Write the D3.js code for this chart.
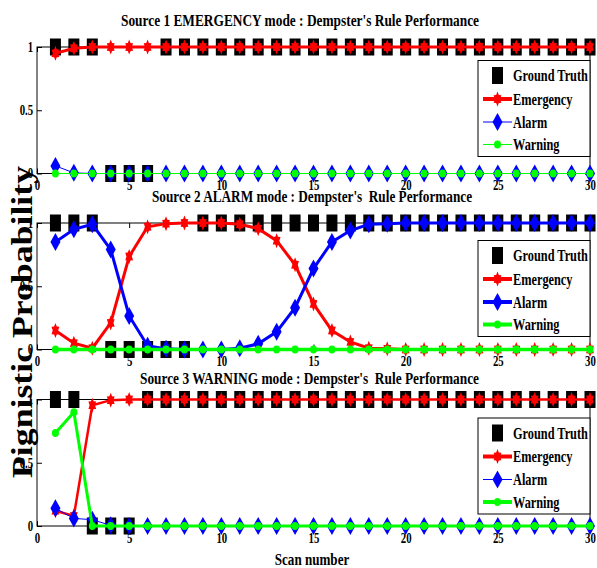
<!DOCTYPE html>
<html>
<head>
<meta charset="utf-8">
<script src="https://cdn.jsdelivr.net/npm/d3@7"></script>
<style>
  body { margin: 0; background: #fff; }
  text { font-family: "Liberation Serif", "Times New Roman", serif; font-weight: bold; }
</style>
</head>
<body>
<div id="chart"></div>
<script>
// ---- data ----
const scans = [1,2,3,4,5,6,7,8,9,10,11,12,13,14,15,16,17,18,19,20,21,22,23,24,25,26,27,28,29,30];
const xTicks = [0, 5, 10, 15, 20, 25, 30];
const yTicks = [0, 0.5, 1];
const seriesNames = ["Ground Truth", "Emergency", "Alarm", "Warning"];
const titles = [
  "Source 1 EMERGENCY mode : Dempster's Rule Performance",
  "Source 2 ALARM mode : Dempster's  Rule Performance",
  "Source 3 WARNING mode : Dempster's  Rule Performance"
];

// Source 1
const truth1     = [1,1,1,0,0,0,1,1,1,1,1,1,1,1,1,1,1,1,1,1,1,1,1,1,1,1,1,1,1,1];
const emergency1 = [0.95,0.99,1,1,1,1,1,1,1,1,1,1,1,1,1,1,1,1,1,1,1,1,1,1,1,1,1,1,1,1];
const alarm1     = [0.06,0.005,0,0,0,0,0,0,0,0,0,0,0,0,0,0,0,0,0,0,0,0,0,0,0,0,0,0,0,0];
const warning1   = [0,0,0,0,0,0,0,0,0,0,0,0,0,0,0,0,0,0,0,0,0,0,0,0,0,0,0,0,0,0];

// Source 2
const truth2     = [1,1,1,0,0,0,0,0,1,1,1,1,1,1,1,1,1,1,1,1,1,1,1,1,1,1,1,1,1,1];
const emergency2 = [0.15,0.05,0.01,0.21,0.735,0.97,0.995,1,1,1,0.99,0.955,0.86,0.67,0.36,0.15,0.06,0.01,0.005,0,0,0,0,0,0,0,0,0,0,0];
const alarm2     = [0.85,0.95,0.99,0.79,0.265,0.03,0.005,0,0,0,0.01,0.045,0.14,0.33,0.64,0.85,0.94,0.99,0.995,1,1,1,1,1,1,1,1,1,1,1];
const warning2   = [0,0,0,0,0,0,0,0,0,0,0,0,0,0,0,0,0,0,0,0,0,0,0,0,0,0,0,0,0,0];

// Source 3
const truth3     = [1,1,0,0,0,1,1,1,1,1,1,1,1,1,1,1,1,1,1,1,1,1,1,1,1,1,1,1,1,1];
const emergency3 = [0.12,0.08,0.955,0.995,1,1,1,1,1,1,1,1,1,1,1,1,1,1,1,1,1,1,1,1,1,1,1,1,1,1];
const alarm3     = [0.14,0.06,0.05,0.005,0,0,0,0,0,0,0,0,0,0,0,0,0,0,0,0,0,0,0,0,0,0,0,0,0,0];
const warning3   = [0.735,0.9,0,0,0,0,0,0,0,0,0,0,0,0,0,0,0,0,0,0,0,0,0,0,0,0,0,0,0,0];

const panels = [
  { title: titles[0], truth: truth1, series: [emergency1, alarm1, warning1] },
  { title: titles[1], truth: truth2, series: [emergency2, alarm2, warning2] },
  { title: titles[2], truth: truth3, series: [emergency3, alarm3, warning3] }
];

// ---- layout / style ----
const width = 597, height = 568;
const panelTop = [47, 223, 399.5];
const panelH = 126.5;
const titleX = [121, 152, 140], titleLen = [358, 320, 339], titleY = [26, 202, 384];
const legendOff = [13.5, 17.5, 18.5];
const lineW = [[3, 1, 1], [3, 3, 3.5], [2.5, 1, 3]];
const colors = ["#ff0000", "#0000ff", "#00ff00"];
const sx = 0.77; // the original text is horizontally squeezed

const svg = d3.select("#chart").append("svg")
    .attr("width", width)
    .attr("height", height);

const x = d3.scaleLinear().domain([0, 30]).range([37, 590]);

// marker shapes
function diamond(w, h) { return `M0,${-h/2}L${w/2},0L0,${h/2}L${-w/2},0Z`; }
function box(w, h) { return `M${-w/2},${-h/2}h${w}v${h}h${-w}Z`; }
function ellipse(w, h) {
  return `M${-w/2},0A${w/2},${h/2} 0 1,0 ${w/2},0A${w/2},${h/2} 0 1,0 ${-w/2},0Z`;
}
function hexagram(w, h) {
  let p = "";
  for (let k = 0; k < 12; k++) {
    const a = -Math.PI / 2 + k * Math.PI / 6;
    const r = k % 2 === 0 ? 1 : 0.6;
    p += (k === 0 ? "M" : "L") + (Math.cos(a) * r * w / 2).toFixed(2) + "," + (Math.sin(a) * r * h / 2).toFixed(2);
  }
  return p + "Z";
}
const markers = [hexagram(9, 15), diamond(10, 18), ellipse(7, 8)];
const truthMarker = box(11, 17);

panels.forEach((p, i) => {
  const top = panelTop[i];
  const y = d3.scaleLinear().domain([0, 1]).range([top + panelH, top]);
  const g = svg.append("g");

  // title
  g.append("text")
      .attr("x", titleX[i])
      .attr("y", titleY[i])
      .attr("font-size", 17)
      .attr("textLength", titleLen[i])
      .attr("lengthAdjust", "spacingAndGlyphs")
      .style("white-space", "pre")
      .text(p.title);

  // frame
  g.append("rect")
      .attr("x", x(0)).attr("y", y(1))
      .attr("width", x(30) - x(0)).attr("height", y(0) - y(1))
      .attr("fill", "none").attr("stroke", "#000");
  g.append("line")
      .attr("x1", x(0)).attr("x2", x(0))
      .attr("y1", y(1)).attr("y2", y(0))
      .attr("stroke", "#888");

  // axes (ticks inside)
  const xa = g.append("g")
      .attr("transform", `translate(0,${y(0)})`)
      .call(d3.axisBottom(x).tickValues(xTicks).tickSize(-5).tickPadding(7));
  g.append("g")
      .attr("transform", `translate(0,${y(1)})`)
      .call(d3.axisTop(x).tickValues(xTicks).tickSize(-5).tickFormat(""));
  const ya = g.append("g")
      .attr("transform", `translate(${x(0)},0)`)
      .call(d3.axisLeft(y).tickValues(yTicks).tickSize(-5).tickPadding(5).tickFormat(d => d));
  g.append("g")
      .attr("transform", `translate(${x(30)},0)`)
      .call(d3.axisRight(y).tickValues(yTicks).tickSize(-5).tickFormat(""));
  g.selectAll(".domain").remove();
  [xa, ya].forEach(a => a.selectAll("text")
      .attr("font-size", 14)
      .attr("font-family", null)
      .attr("transform", `scale(${sx},1)`));

  // ground truth (markers only)
  g.append("g").selectAll("path")
      .data(scans)
      .join("path")
      .attr("transform", (d, j) => `translate(${x(d)},${y(p.truth[j])})`)
      .attr("d", truthMarker)
      .attr("fill", "#000");

  // series
  p.series.forEach((vals, s) => {
    const line = d3.line().x(d => x(d)).y((d, j) => y(vals[j]));
    g.append("path")
        .attr("d", line(scans))
        .attr("fill", "none")
        .attr("stroke", colors[s])
        .attr("stroke-width", lineW[i][s]);
    g.append("g").selectAll("path")
        .data(scans)
        .join("path")
        .attr("transform", (d, j) => `translate(${x(d)},${y(vals[j])})`)
        .attr("d", markers[s])
        .attr("fill", colors[s]);
  });

  // legend
  const ly = y(1) + legendOff[i];
  const lg = g.append("g").attr("transform", `translate(478,${ly})`);
  lg.append("rect")
      .attr("width", 112).attr("height", 96)
      .attr("fill", "#fff").attr("stroke", "#000");
  const rowY = [15, 38.5, 61.5, 84];
  seriesNames.forEach((name, k) => {
    const row = lg.append("g").attr("transform", `translate(0,${rowY[k]})`);
    if (k === 0) {
      row.append("path").attr("transform", "translate(19.5,0)").attr("d", truthMarker).attr("fill", "#000");
    } else {
      row.append("line")
          .attr("x1", 5).attr("x2", 34)
          .attr("stroke", colors[k - 1])
          .attr("stroke-width", lineW[i][k - 1] > 1.5 ? 4 : 1);
      row.append("path").attr("transform", "translate(19.5,0)").attr("d", markers[k - 1]).attr("fill", colors[k - 1]);
    }
    row.append("text")
        .attr("transform", `translate(35,5.5) scale(${sx},1)`)
        .attr("font-size", 16)
        .text(name);
  });
});

// axis labels
svg.append("text")
    .attr("transform", `translate(312,565) scale(${sx},1)`)
    .attr("text-anchor", "middle")
    .attr("font-size", 17)
    .text("Scan number");

svg.append("text")
    .attr("transform", "translate(32,322) rotate(-90) scale(1,0.9)")
    .attr("text-anchor", "middle")
    .attr("font-size", 32)
    .attr("textLength", 312)
    .attr("lengthAdjust", "spacingAndGlyphs")
    .text("Pignistic Probability");
</script>
</body>
</html>
